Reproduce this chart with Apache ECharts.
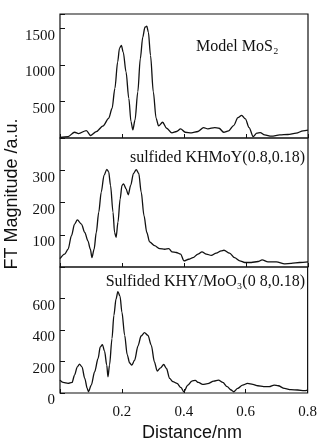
<!DOCTYPE html>
<html>
<head>
<meta charset="utf-8">
<script src="https://cdn.jsdelivr.net/npm/echarts@6/dist/echarts.min.js"></script>
<style>
  html, body { margin: 0; padding: 0; background: #fff; }
  #chart { width: 320px; height: 447px; }
</style>
</head>
<body>
<div id="chart"></div>
<script>
// FT magnitude vs distance, three stacked panels

// Model MoS2
const dist1 = [0.000, 0.026, 0.047, 0.060, 0.085, 0.099, 0.117, 0.139, 0.157, 0.168, 0.177, 0.186, 0.192, 0.198, 0.204, 0.213, 0.222, 0.229, 0.235, 0.242, 0.251, 0.259, 0.267, 0.274, 0.280, 0.285, 0.292, 0.301, 0.310, 0.318, 0.331, 0.344, 0.361, 0.376, 0.389, 0.404, 0.424, 0.445, 0.463, 0.477, 0.499, 0.513, 0.528, 0.544, 0.560, 0.574, 0.586, 0.598, 0.610, 0.623, 0.635, 0.646, 0.660, 0.682, 0.709, 0.735, 0.762, 0.784, 0.800];
const mag1 = [7, 20, 79, 61, 102, 34, 88, 166, 270, 406, 679, 1042, 1233, 1269, 1178, 906, 543, 225, 111, 247, 633, 1087, 1382, 1519, 1532, 1451, 1133, 633, 270, 166, 216, 134, 70, 89, 125, 79, 70, 89, 143, 125, 143, 134, 79, 98, 170, 279, 311, 261, 143, 20, 66, 75, 43, 25, 43, 48, 66, 98, 107];

// sulfided KHMoY(0.8,0.18)
const dist2 = [0.000, 0.015, 0.026, 0.037, 0.047, 0.056, 0.069, 0.080, 0.090, 0.098, 0.103, 0.110, 0.117, 0.125, 0.133, 0.142, 0.151, 0.157, 0.163, 0.171, 0.176, 0.181, 0.187, 0.194, 0.200, 0.205, 0.213, 0.220, 0.228, 0.237, 0.246, 0.254, 0.262, 0.271, 0.280, 0.289, 0.305, 0.322, 0.338, 0.351, 0.361, 0.375, 0.389, 0.400, 0.415, 0.429, 0.445, 0.458, 0.472, 0.488, 0.504, 0.520, 0.529, 0.547, 0.563, 0.580, 0.596, 0.617, 0.639, 0.652, 0.671, 0.698, 0.725, 0.746, 0.773, 0.800];
const mag2 = [26, 40, 55, 97, 133, 146, 133, 107, 81, 55, 29, 55, 107, 170, 232, 284, 303, 295, 253, 170, 107, 92, 139, 211, 253, 258, 243, 224, 253, 290, 302, 290, 232, 159, 107, 78, 66, 57, 55, 57, 47, 45, 40, 19, 24, 29, 40, 47, 40, 36, 43, 50, 52, 43, 29, 19, 14, 14, 17, 22, 16, 16, 10, 11, 14, 16];

// Sulfided KHY/MoO3(0.8,0.18)
const dist3 = [0.000, 0.010, 0.026, 0.039, 0.047, 0.056, 0.063, 0.071, 0.080, 0.088, 0.092, 0.101, 0.112, 0.123, 0.130, 0.137, 0.144, 0.151, 0.155, 0.160, 0.168, 0.174, 0.181, 0.187, 0.194, 0.200, 0.209, 0.217, 0.225, 0.232, 0.241, 0.252, 0.262, 0.273, 0.284, 0.295, 0.305, 0.314, 0.325, 0.335, 0.344, 0.354, 0.365, 0.378, 0.391, 0.400, 0.413, 0.426, 0.437, 0.447, 0.461, 0.477, 0.497, 0.512, 0.526, 0.540, 0.553, 0.561, 0.574, 0.590, 0.606, 0.623, 0.639, 0.658, 0.676, 0.692, 0.705, 0.725, 0.746, 0.768, 0.789, 0.800];
const mag3 = [82, 67, 61, 67, 114, 166, 183, 166, 93, 29, 8, 50, 135, 219, 292, 307, 265, 177, 103, 177, 345, 492, 597, 644, 614, 513, 366, 244, 191, 177, 208, 299, 362, 383, 366, 303, 198, 139, 160, 181, 156, 93, 72, 61, 34, 8, 50, 76, 80, 67, 55, 59, 76, 82, 67, 40, 19, 8, 29, 50, 61, 55, 46, 40, 40, 50, 46, 29, 21, 19, 15, 19];

// tick labels
const xLabels = ['0.2', '0.4', '0.6', '0.8'];
const yLabels1 = [500, 1000, 1500];
const yLabels2 = [100, 200, 300];
const yLabels3 = [0, 200, 400, 600];

const panelNames = ['Model MoS\u2082', 'sulfided KHMoY(0.8,0.18)', 'Sulfided KHY/MoO\u2083(0 8,0.18)'];

const SERIF = '"Liberation Serif", "Times New Roman", "DejaVu Serif", serif';
const SANS = '"Liberation Sans", Arial, sans-serif';
const INK = '#111';

const panels = [
  { top: 14, height: 124, max: 1700, interval: 500, dist: dist1, mag: mag1, yLabels: yLabels1 },
  { top: 138, height: 129, max: 400, interval: 100, dist: dist2, mag: mag2, yLabels: yLabels2 },
  { top: 267, height: 126, max: 800, interval: 200, dist: dist3, mag: mag3, yLabels: yLabels3 },
];

const chart = echarts.init(document.getElementById('chart'));

const option = {
  animation: false,
  backgroundColor: '#fff',
  grid: panels.map((p) => ({
    left: 60,
    width: 248,
    top: p.top,
    height: p.height,
    show: true,
    borderColor: INK,
    borderWidth: 1.2,
    backgroundColor: 'transparent',
  })),
  xAxis: panels.map((p, i) => ({
    type: 'value',
    gridIndex: i,
    min: 0,
    max: 0.8,
    interval: 0.2,
    axisLine: { show: false },
    axisTick: { show: true, inside: true, length: 4, lineStyle: { color: INK, width: 1 } },
    splitLine: { show: false },
    axisLabel: {
      show: i === 2,
      margin: 12,
      fontFamily: SERIF,
      fontSize: 15,
      color: INK,
      formatter: (v) => (xLabels.includes(v.toFixed(1)) ? v.toFixed(1) : ''),
    },
  })),
  yAxis: panels.map((p, i) => ({
    type: 'value',
    gridIndex: i,
    min: 0,
    max: p.max,
    interval: p.interval,
    axisLine: { show: false },
    axisTick: { show: true, inside: true, length: 5, lineStyle: { color: INK, width: 1 } },
    splitLine: { show: false },
    axisLabel: {
      margin: 5,
      verticalAlign: 'top',
      fontFamily: SERIF,
      fontSize: 15,
      color: INK,
      formatter: (v) => (p.yLabels.includes(v) ? String(v) : ''),
    },
  })),
  series: panels.map((p, i) => ({
    type: 'line',
    xAxisIndex: i,
    yAxisIndex: i,
    data: p.dist.map((d, k) => [d, p.mag[k]]),
    showSymbol: false,
    smooth: 0.3,
    smoothMonotone: 'x',
    lineStyle: { color: INK, width: 1.3 },
  })),
  graphic: [
    {
      type: 'text', x: 12, y: 194, rotation: Math.PI / 2,
      style: { text: 'FT Magnitude /a.u.', font: '18px ' + SANS, fill: INK, textAlign: 'center', textVerticalAlign: 'middle' },
    },
    {
      type: 'text', x: 192, y: 433,
      style: { text: 'Distance/nm', font: '18px ' + SANS, fill: INK, textAlign: 'center', textVerticalAlign: 'middle' },
    },
    {
      type: 'text', x: 196, y: 47,
      style: { text: panelNames[0], font: '16px ' + SERIF, fill: INK, textAlign: 'left', textVerticalAlign: 'middle' },
    },
    {
      type: 'text', x: 305, y: 158,
      style: { text: panelNames[1], font: '16px ' + SERIF, fill: INK, textAlign: 'right', textVerticalAlign: 'middle' },
    },
    {
      type: 'text', x: 305, y: 282,
      style: { text: panelNames[2], font: '16px ' + SERIF, fill: INK, textAlign: 'right', textVerticalAlign: 'middle' },
    },
  ],
};

chart.setOption(option);
</script>
</body>
</html>
